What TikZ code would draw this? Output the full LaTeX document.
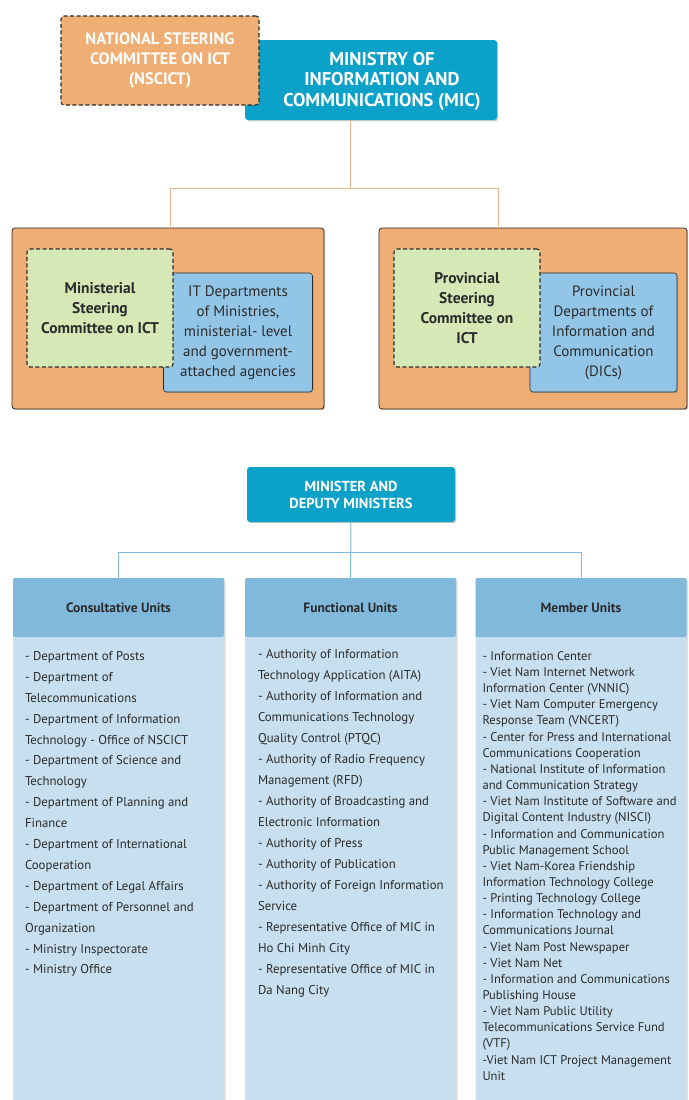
\documentclass[tikz,border=0pt]{standalone}
\usepackage{fontspec}
\setmainfont{PT Sans}
\usetikzlibrary{shadows}
\definecolor{nscictorange}{HTML}{EFAE74}
\definecolor{micteal}{HTML}{0CA1C9}
\definecolor{steergreen}{HTML}{D5E8B6}
\definecolor{deptblue}{HTML}{92C5E6}
\definecolor{headblue}{HTML}{80B9DB}
\definecolor{bodyblue}{HTML}{C7DFEE}
\definecolor{tanline}{HTML}{E7B68A}
\definecolor{inkgray}{HTML}{2B2B2B}
\tikzstyle{shade}=[drop shadow={shadow xshift=1.2pt, shadow yshift=-1.2pt, opacity=0.4}]
\tikzstyle{orgbox}=[rectangle, rounded corners=3pt, inner sep=0pt, align=center]
\tikzstyle{committee}=[orgbox, draw=inkgray, dash pattern=on 4pt off 2.5pt, line width=1.1pt]
\tikzstyle{tealbox}=[orgbox, fill=micteal, text=white, shade]
\tikzstyle{groupbox}=[orgbox, fill=nscictorange, draw=inkgray, line width=0.8pt, shade]
\tikzstyle{deptbox}=[orgbox, fill=deptblue, draw=inkgray, line width=0.6pt, text=inkgray,
  font=\fontsize{15}{20}\selectfont, shade]
\tikzstyle{steerbox}=[committee, fill=steergreen, text=inkgray,
  font=\bfseries\fontsize{15.5}{20}\selectfont]
\tikzstyle{column}=[rectangle, rounded corners=3pt, fill=bodyblue, minimum width=211pt,
  minimum height=527pt, inner sep=0pt, drop shadow={shadow xshift=1.5pt, shadow yshift=0pt, opacity=0.25}]
\tikzstyle{colhead}=[rectangle, rounded corners=2pt, fill=headblue, minimum width=211pt,
  minimum height=59pt, inner sep=0pt, text=inkgray, font=\bfseries\fontsize{13.5}{16}\selectfont]
\tikzstyle{unitlist}=[inner sep=0pt, align=left, text=inkgray]
\tikzstyle{tanlink}=[draw=tanline, line width=1pt]
\tikzstyle{bluelink}=[draw=headblue, line width=1pt]

\begin{document}
\begin{tikzpicture}[x=1pt, y=-1pt]
  \fill[white] (0,0) rectangle (688,1100);
  \useasboundingbox (0,0) rectangle (688,1100);

  % top of the chart
  \node[tealbox, minimum width=252pt, minimum height=80pt] (mic) at (371,80) {};
  \node[text=white, align=center, font=\bfseries\fontsize{18.5}{20.5}\selectfont] (mictext)
    at (382,81) {MINISTRY OF\\INFORMATION AND\\COMMUNICATIONS (MIC)};
  \node[committee, fill=nscictorange, text=white, minimum width=198pt, minimum height=89pt,
    font=\bfseries\fontsize{16.5}{20}\selectfont] (nscict)
    at (160,60.5) {NATIONAL STEERING\\COMMITTEE ON ICT\\(NSCICT)};

  % ministerial and provincial groups
  \node[groupbox, minimum width=312pt, minimum height=181pt] (leftgroup) at (168,318.5) {};
  \node[groupbox, minimum width=308pt, minimum height=181pt] (rightgroup) at (533,318.5) {};
  \node[deptbox, minimum width=149pt, minimum height=119pt] (itdepts) at (238,332.5)
    {IT Departments\\of Ministries,\\ministerial- level\\and government-\\attached agencies};
  \node[steerbox, minimum width=146pt, minimum height=118pt] (ministeer) at (100,308)
    {Ministerial\\Steering\\Committee on ICT};
  \node[deptbox, minimum width=147pt, minimum height=119pt] (dics) at (603.5,332.5)
    {Provincial\\Departments of\\Information and\\Communication\\(DICs)};
  \node[steerbox, minimum width=146pt, minimum height=118pt] (provsteer) at (467,308)
    {Provincial\\Steering\\Committee on\\ICT};

  \coordinate (busmid) at (350,188);
  \coordinate (busL) at (170,188);
  \coordinate (busR) at (498,188);
  \draw[tanlink] (mic.south -| busmid) -- (busmid);
  \draw[tanlink] (leftgroup.north -| busL) -- (busL) -- (busR) -- (rightgroup.north -| busR);

  % ministry structure
  \node[tealbox, minimum width=208pt, minimum height=55pt,
    font=\bfseries\fontsize{14.5}{17}\selectfont] (minister) at (351,494.5)
    {MINISTER AND\\DEPUTY MINISTERS};

  \node[column] (consult) at (118.5,841.5) {};
  \node[column] (functional) at (350.5,841.5) {};
  \node[column] (member) at (581,841.5) {};
  \node[colhead, anchor=north] (consulthead) at (consult.north) {Consultative Units};
  \node[colhead, anchor=north] (functionalhead) at (functional.north) {Functional Units};
  \node[colhead, anchor=north] (memberhead) at (member.north) {Member Units};

  \coordinate (busB) at (350,552);
  \draw[bluelink] (minister.south) -- (functional.north);
  \draw[bluelink] (consult.north) -- (consult.north |- busB) -- (member.north |- busB) -- (member.north);

  \node[unitlist, anchor=north west, font=\fontsize{12.8}{20.9}\selectfont] (consultlist)
    at ([xshift=12pt, yshift=-14pt]consulthead.south west)
    {- Department of Posts\\- Department of\\Telecommunications\\
     - Department of Information\\Technology - Office of NSCICT\\
     - Department of Science and\\Technology\\- Department of Planning and\\Finance\\
     - Department of International\\Cooperation\\- Department of Legal Affairs\\
     - Department of Personnel and\\Organization\\- Ministry Inspectorate\\- Ministry Office};
  \node[unitlist, anchor=north west, font=\fontsize{12.8}{21}\selectfont] (functionallist)
    at ([xshift=13pt, yshift=-12pt]functionalhead.south west)
    {- Authority of Information\\Technology Application (AITA)\\
     - Authority of Information and\\Communications Technology\\Quality Control (PTQC)\\
     - Authority of Radio Frequency\\Management (RFD)\\
     - Authority of Broadcasting and\\Electronic Information\\- Authority of Press\\
     - Authority of Publication\\- Authority of Foreign Information\\Service\\
     - Representative Office of MIC in\\Ho Chi Minh City\\
     - Representative Office of MIC in\\Da Nang City};
  \node[unitlist, anchor=north west, font=\fontsize{12.6}{16.15}\selectfont] (memberlist)
    at ([xshift=7pt, yshift=-14pt]memberhead.south west)
    {- Information Center\\- Viet Nam Internet Network\\Information Center (VNNIC)\\
     - Viet Nam Computer Emergency\\Response Team (VNCERT)\\
     - Center for Press and International\\Communications Cooperation\\
     - National Institute of Information\\and Communication Strategy\\
     - Viet Nam Institute of Software and\\Digital Content Industry (NISCI)\\
     - Information and Communication\\Public Management School\\
     - Viet Nam-Korea Friendship\\Information Technology College\\
     - Printing Technology College\\- Information Technology and\\Communications Journal\\
     - Viet Nam Post Newspaper\\- Viet Nam Net\\
     - Information and Communications\\Publishing House\\
     - Viet Nam Public Utility\\Telecommunications Service Fund\\(VTF)\\
     -Viet Nam ICT Project Management\\Unit};
\end{tikzpicture}
\end{document}
